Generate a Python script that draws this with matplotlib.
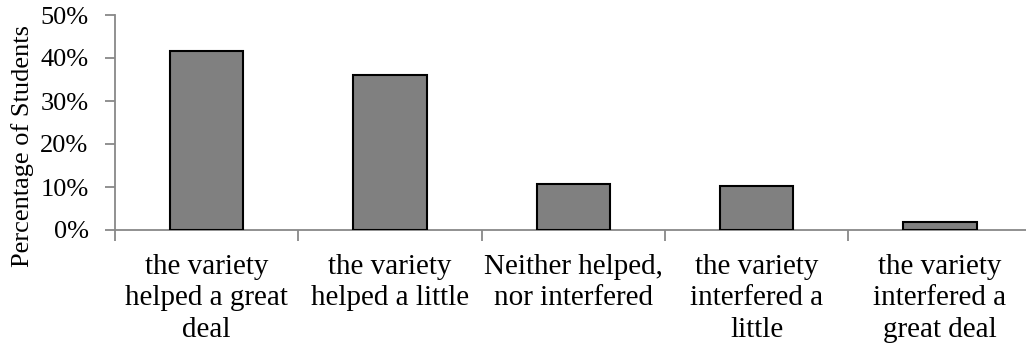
import numpy as np
import matplotlib.pyplot as plt
from matplotlib.ticker import FixedLocator, PercentFormatter

categories = [
    "the variety\nhelped a great\ndeal",
    "the variety\nhelped a little",
    "Neither helped,\nnor interfered",
    "the variety\ninterfered a\nlittle",
    "the variety\ninterfered a\ngreat deal",
]
percent_students = [41.6, 36.0, 10.8, 10.2, 1.9]
y_ticks = [0, 10, 20, 30, 40, 50]

plt.rcParams['font.family'] = ['Liberation Serif', 'DejaVu Serif']

W, H = 1026, 350
fig = plt.figure(figsize=(W / 100, H / 100), dpi=100)
ax = fig.add_axes([115 / W, 1 - 230 / H, 1 - 115 / W, 215 / H])

x = np.arange(len(categories))
ax.bar(x, percent_students, width=0.4, color='#808080',
       edgecolor='black', linewidth=1.5, zorder=3)

ax.set_ylim(0, 50)
ax.set_xlim(-0.5, -0.5 + (W - 115) / 183.3)
ax.set_yticks(y_ticks)
ax.yaxis.set_major_formatter(PercentFormatter(decimals=0))

# y label placed by hand, a bit below the axes centre
fig.text(23 / W, 1 - 146 / H, 'Percentage of Students', rotation=90,
         ha='center', va='center', fontsize=19)

# category labels centred under bars, tick marks on the boundaries
ax.xaxis.set_major_locator(FixedLocator(x - 0.5))
ax.set_xticklabels([])
ax.xaxis.set_minor_locator(FixedLocator(x))
ax.set_xticklabels(categories, minor=True, fontsize=21, linespacing=1.28)
ax.tick_params(axis='x', which='minor', length=0, pad=17)
ax.tick_params(axis='x', which='major', length=8, color='#888888', width=1.3)
ax.tick_params(axis='y', length=7, color='#888888', width=1.3, labelsize=19, pad=12)

for side in ['top', 'right']:
    ax.spines[side].set_visible(False)
for side in ['left', 'bottom']:
    ax.spines[side].set_color('#888888')
    ax.spines[side].set_linewidth(1.3)

fig.savefig('out.png', dpi=100)
